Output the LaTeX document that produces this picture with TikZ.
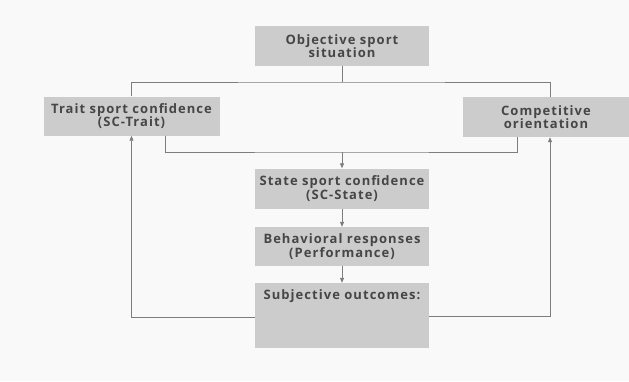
\documentclass[tikz,border=0pt]{standalone}
\usepackage{fontspec}
\setmainfont{Open Sans}[LetterSpace=8]
\usetikzlibrary{arrows.meta}
\definecolor{boxgray}{RGB}{204,204,204}
\definecolor{linegray}{RGB}{125,125,125}
\definecolor{textgray}{RGB}{70,70,70}
\definecolor{paper}{RGB}{249,249,249}
\tikzset{
  stage/.style={fill=boxgray, text=textgray, align=center, inner sep=0pt,
    font=\fontsize{13}{13.5}\selectfont\bfseries},
  link/.style={draw=linegray, line width=0.8pt},
  feed/.style={link, -{Triangle[length=5pt,width=4pt]}}
}
\begin{document}
\begin{tikzpicture}[x=1pt,y=-1pt]
      \fill[paper] (0,0) rectangle (629,381);
      \useasboundingbox (0,0) rectangle (629,381);
      \node[stage, minimum width=174pt, minimum height=40pt](objective) at (342,46)
        {Objective sport\\situation};
      \node[stage, minimum width=176pt, minimum height=39pt](trait) at (131.5,116)
        {Trait sport confidence\\(SC-Trait)};
      \node[stage, minimum width=166pt, minimum height=40pt](competitive) at (546,117)
        {Competitive\\orientation};
      \node[stage, minimum width=174pt, minimum height=40pt](state) at (342,188.5)
        {State sport confidence\\(SC-State)};
      \node[stage, minimum width=174pt, minimum height=39pt](behaviour) at (342,246.5)
        {Behavioral responses\\(Performance)};
      \node[stage, minimum width=174pt, minimum height=65pt,
        label={[stage, fill=none, anchor=north, yshift=-7pt]north:Subjective outcomes:}](outcomes) at (342,315.5) {};
      \coordinate (split) at (342,82);
      \coordinate (merge) at (342,152);
      \draw[link] (objective) -- (split);
      \draw[link] (trait.north) |- (split) -| ([xshift=4pt]competitive.north);
      \draw[link] ([xshift=34pt]trait.south) |- (merge) -| ([xshift=-29pt]competitive.south);
      \draw[feed] (merge) -- (state);
      \draw[feed] (state) -- (behaviour);
      \draw[feed] (behaviour) -- (outcomes);
      \draw[feed] ([yshift=-1.5pt]outcomes.west) -| (trait.south);
      \draw[feed] ([yshift=-0.5pt]outcomes.east) -| ([xshift=4pt]competitive.south);
    \end{tikzpicture}
\end{document}
